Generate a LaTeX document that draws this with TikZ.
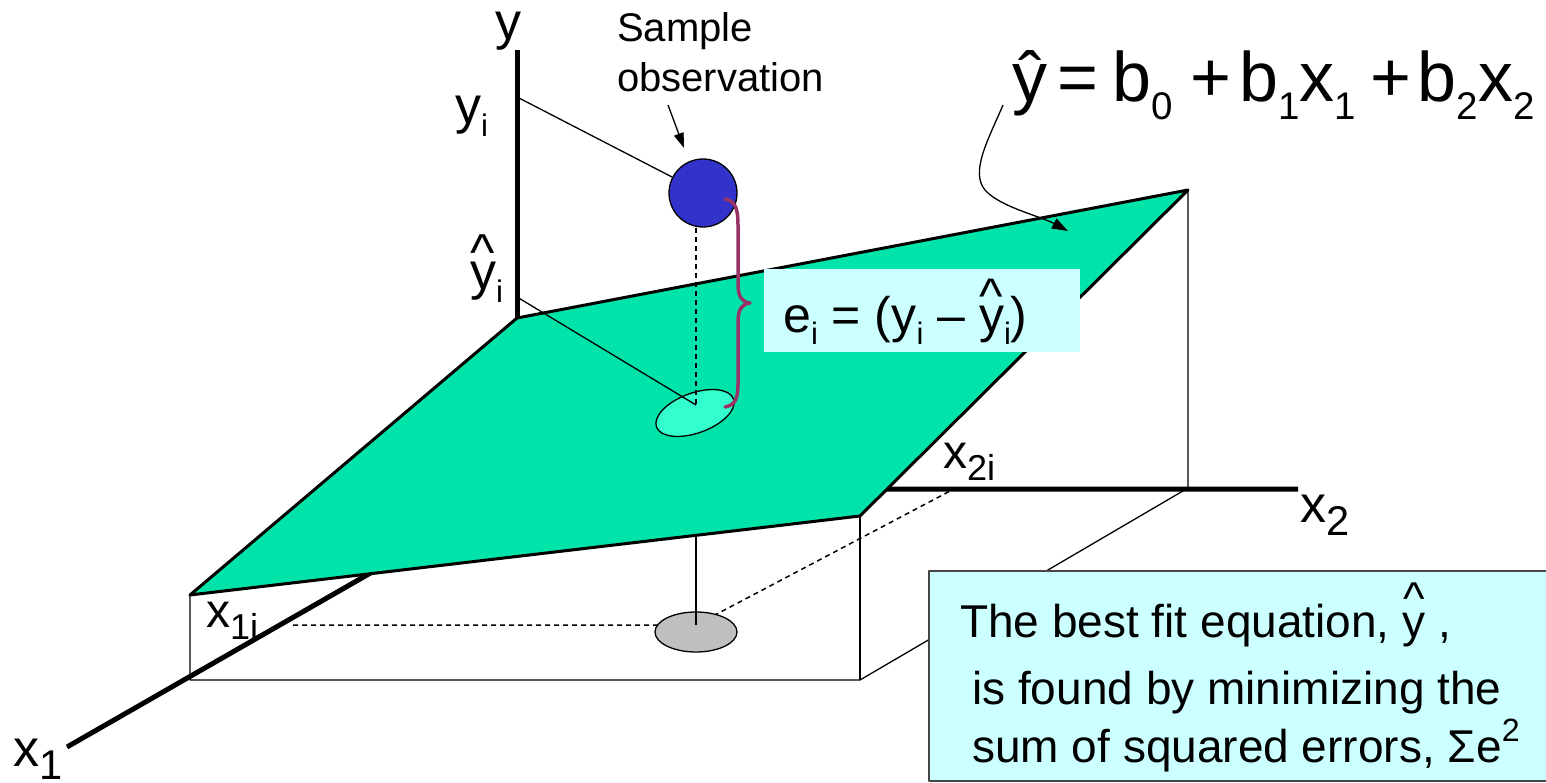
\documentclass[tikz,border=0pt]{standalone}
\usepackage{fontspec}
\setmainfont{Liberation Sans}
\usepackage{xcolor}
\usetikzlibrary{arrows.meta, calc}

\definecolor{planegreen}{RGB}{0,228,170}
\definecolor{fitgreen}{RGB}{51,255,204}
\definecolor{obsblue}{RGB}{51,51,204}
\definecolor{bracepurple}{RGB}{153,51,102}
\definecolor{notecyan}{RGB}{204,255,255}
\definecolor{noteedge}{RGB}{70,70,70}

\newcommand{\lsub}[2][0.62]{\raisebox{-0.25em}{\scalebox{#1}{#2}}}
\newcommand{\yhat}[1][0.38em]{\leavevmode\rlap{\kern0.015em\raisebox{#1}{\char"5E}}y}

\tikzset{
    axis/.style={line width=5pt},
    thinline/.style={line width=1.3pt},
    dashline/.style={line width=1.5pt, dash pattern=on 5pt off 4pt},
    lbl/.style={anchor=base west, inner sep=0pt, font=\fontsize{52}{60}\selectfont},
}

\begin{document}
\begin{tikzpicture}[x=1pt, y=-1pt, line join=round]

    \useasboundingbox (0,0) rectangle (1546,783);

    % Axis end points
    \coordinate (origin) at (517,489);
    \coordinate (yTop) at (517,50);
    \coordinate (x1End) at (67,747);
    \coordinate (x2End) at (1298,489);

    % Corners of the fitted plane
    \coordinate (planeBack) at (517,318);
    \coordinate (planeRight) at (1188,190);
    \coordinate (planeFront) at (860,516);
    \coordinate (planeLeft) at (190,595);

    % Corners of the floor box
    \coordinate (baseLeft) at (190,680);
    \coordinate (baseFront) at (860,680);
    \coordinate (baseRight) at (1188,488);

    % Thin box below the plane
    \draw[thinline] (planeLeft) -- (baseLeft) -- (baseFront) -- (baseRight) -- (planeRight);
    \draw[thinline] (planeFront) -- (baseFront);

    % Axes
    \draw[axis] (x1End) -- (origin) -- (x2End);
    \draw[axis] (origin) -- (yTop);

    % Projection of the observation on the floor
    \coordinate (floorPt) at (696,625);
    \coordinate (x1iPt) at (293,625);
    \coordinate (x2iPt) at (952,490);
    \draw[dashline] (x1iPt) -- (floorPt) -- (x2iPt);
    \filldraw[fill=black!25, thinline] (696,632) ellipse (41 and 20);
    \draw[thinline] (696,536) -- (floorPt);

    % Fitted plane
    \filldraw[fill=planegreen, line width=3pt] (planeBack) -- (planeRight) -- (planeFront) -- (planeLeft) -- cycle;

    % Fitted value on the plane
    \coordinate (fitPt) at (696,405);
    \filldraw[fill=fitgreen, thinline, rotate around={20:(695,413)}] (695,413) ellipse (41 and 20);

    % Sample observation
    \node[circle, draw, thinline, fill=obsblue, minimum size=68pt, inner sep=0pt] (obs) at (703,193) {};

    % Lines from the y axis
    \coordinate (yiTick) at (517,97);
    \coordinate (yhatTick) at (517,297);
    \draw[thinline] (yiTick) -- (obs);
    \draw[thinline] (yhatTick) -- (fitPt);
    \draw[dashline] (fitPt |- obs.south) -- (fitPt);

    % Error brace
    \draw[bracepurple, line width=3.5pt, line cap=round]
        (725,199) .. controls (736,201) and (738,210) .. (738,225) -- (738,284)
        .. controls (738,297) and (742,302) .. (750,303)
        .. controls (742,304) and (738,309) .. (738,322) -- (738,384)
        .. controls (738,399) and (735,405) .. (725,407);

    % Error label
    \fill[notecyan] (764,269) rectangle (1080,352);
    \node[lbl, font=\fontsize{50}{60}\selectfont] (errLbl) at (783,332)
        {e\lsub{i} = (y\lsub{i} – \yhat\lsub{i})};

    % Note box
    \filldraw[fill=notecyan, draw=noteedge, thinline] (929,571) rectangle (1552,781);
    \node[lbl, font=\fontsize{46}{56}\selectfont] (noteA) at (960,637)
        {The best fit equation, \yhat[0.5em] ,};
    \node[lbl, font=\fontsize{46}{56}\selectfont] (noteB) at (972,704)
        {is found by minimizing the};
    \node[lbl, font=\fontsize{46}{56}\selectfont] (noteC) at (972,762)
        {sum of squared errors, Σe\raisebox{0.45em}{\scalebox{0.7}{2}}};

    % Axis labels
    \node[lbl] (yLbl) at (495,40) {y};
    \node[lbl] (yiLbl) at (455,124) {y\lsub[0.6]{i}};
    \node[lbl] (yhatLbl) at (470,290) {\yhat\lsub[0.6]{i}};
    \node[lbl, font=\fontsize{48}{56}\selectfont] (x1iLbl) at (206,627) {x\lsub[0.75]{1i}};
    \node[lbl, font=\fontsize{48}{56}\selectfont] (x2iLbl) at (943,468) {x\lsub[0.75]{2i}};
    \node[lbl] (x2Lbl) at (1300,522) {x\lsub[0.8]{2}};
    \node[lbl] (x1Lbl) at (13,766) {x\lsub[0.8]{1}};

    % Sample observation label
    \node[lbl, font=\fontsize{40}{50}\selectfont] (sampleLbl) at (617,42) {Sample};
    \node[lbl, font=\fontsize{40}{50}\selectfont] (observLbl) at (617,92) {observation};
    \coordinate (obsArrowTail) at (668,105);
    \coordinate (obsArrowTip) at (684,148);
    \draw[thinline, -{Triangle[length=15pt, width=10pt]}] (obsArrowTail) -- (obsArrowTip);

    % Regression equation
    \node[lbl, font=\fontsize{70}{78}\selectfont] (eqn) at (1012,102)
        {ŷ\hspace{10pt}=\hspace{14pt}b\lsub[0.55]{0}\hspace{18pt}+\hspace{8pt}b\lsub[0.55]{1}x\lsub[0.55]{1}\hspace{14pt}+\hspace{7pt}b\lsub[0.55]{2}x\lsub[0.55]{2}};
    \coordinate (eqnTail) at (1003,105);
    \coordinate (planeTip) at (1068,231);
    \draw[thinline, -{Triangle[length=16pt, width=11pt]}] (eqnTail)
        .. controls (988,140) and (970,172) .. (985,190)
        .. controls (1000,207) and (1040,216) .. (planeTip);

\end{tikzpicture}
\end{document}
